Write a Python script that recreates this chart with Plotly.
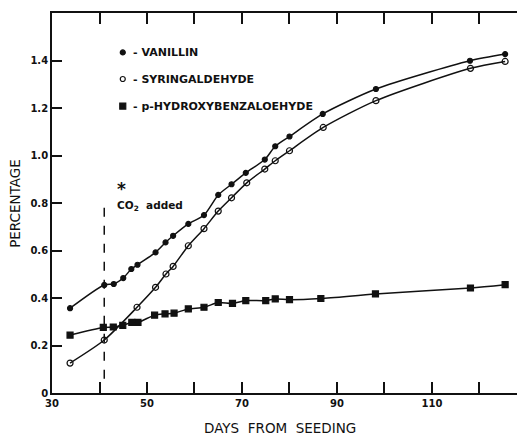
import plotly.graph_objects as go

# ---- data ----
days_van = [33.8, 41.0, 43.0, 45.0, 46.7, 48.0, 51.8, 53.9, 55.5, 58.7, 62.0, 65.0, 67.8, 70.8, 74.8, 77.0, 80.0, 87.0, 98.2, 118.0, 125.4]
vanillin = [0.357, 0.455, 0.459, 0.484, 0.522, 0.540, 0.592, 0.634, 0.662, 0.712, 0.749, 0.834, 0.879, 0.927, 0.983, 1.039, 1.080, 1.175, 1.280, 1.399, 1.427]

days_syr = [33.8, 41.0, 47.9, 51.8, 54.0, 55.5, 58.7, 62.0, 65.0, 67.8, 71.0, 74.8, 77.0, 80.0, 87.1, 98.2, 118.1, 125.4]
syringaldehyde = [0.126, 0.223, 0.361, 0.445, 0.501, 0.533, 0.620, 0.692, 0.766, 0.822, 0.885, 0.943, 0.978, 1.020, 1.118, 1.231, 1.367, 1.396]

days_hb = [33.8, 40.8, 42.9, 44.9, 46.8, 48.1, 51.6, 53.8, 55.7, 58.7, 62.0, 65.0, 68.0, 70.8, 75.0, 77.0, 80.0, 86.6, 98.1, 118.1, 125.4]
hydroxybenz = [0.244, 0.276, 0.278, 0.285, 0.297, 0.297, 0.328, 0.333, 0.336, 0.354, 0.361, 0.381, 0.377, 0.389, 0.389, 0.396, 0.393, 0.398, 0.417, 0.442, 0.456]

x_tickvals = [30, 50, 70, 90, 110]
x_ticktext = ["30", "50", "70", "90", "110"]
y_tickvals = [0, 0.2, 0.4, 0.6, 0.8, 1.0, 1.2, 1.4]
y_ticktext = ["0", "0.2", "0.4", "0.6", "0.8", "1.0", "1.2", "1.4"]

legend_names = ["- VANILLIN", "- SYRINGALDEHYDE", "- p-HYDROXYBENZALOEHYDE"]
co2_day = 41.0

# ---- styling ----
BLACK = "#111111"
LBL = dict(family="DejaVu Sans", size=10, color=BLACK, weight="bold")
LEG = dict(family="DejaVu Sans", size=11, color=BLACK, weight="bold")

fig = go.Figure()

def series(x, y, symbol, size, lw=1.5):
    fig.add_trace(go.Scatter(
        x=x, y=y, mode="lines+markers",
        line=dict(color=BLACK, width=lw, shape="spline", smoothing=0.7),
        marker=dict(symbol=symbol, size=size, color=BLACK,
                    line=dict(color=BLACK, width=1.2)),
        showlegend=False, hoverinfo="skip"))

series(days_van, vanillin, "circle", 5)
series(days_syr, syringaldehyde, "circle-open", 6)
series(days_hb, hydroxybenz, "square", 6)

# legend block inside the plot
leg_x = 44.9
leg_y = [1.434, 1.322, 1.208]
leg_sym = ["circle", "circle-open", "square"]
leg_size = [5, 5, 6]
for yy, sym, sz, name in zip(leg_y, leg_sym, leg_size, legend_names):
    fig.add_trace(go.Scatter(x=[leg_x], y=[yy], mode="markers",
                             marker=dict(symbol=sym, size=sz, color=BLACK, line=dict(color=BLACK, width=1.2)),
                             showlegend=False, hoverinfo="skip"))
    fig.add_annotation(x=46.6, y=yy, text=name, showarrow=False, xanchor="left", yanchor="middle",
                       font=LEG)

# CO2 added marker
fig.add_shape(type="line", x0=co2_day, x1=co2_day, y0=0.06, y1=0.80,
              line=dict(color=BLACK, width=1.5, dash="dash"))
fig.add_annotation(x=43.3, y=0.828, text="<span style='font-size:17px'><b>*</b></span><br>CO<sub>2</sub>  added",
                   showarrow=False, xanchor="left", yanchor="middle", align="left",
                   font=dict(family="DejaVu Sans", size=10.5, color=BLACK, weight="bold"))

# axis titles as annotations
fig.add_annotation(x=-0.08, xref="paper", y=0.5, yref="paper", text="PERCENTAGE", textangle=-90,
                   showarrow=False, xanchor="center", yanchor="middle",
                   font=dict(family="DejaVu Sans", size=13.5, color=BLACK))
fig.add_annotation(x=0.49, xref="paper", y=-0.092, yref="paper", text="DAYS  FROM  SEEDING",
                   showarrow=False, xanchor="center", yanchor="middle",
                   font=dict(family="DejaVu Sans", size=13.5, color=BLACK))

fig.update_xaxes(range=[30, 127.9], tickvals=x_tickvals, ticktext=x_ticktext,
                 ticks="inside", ticklen=11, tickwidth=1.5, tickcolor=BLACK,
                 minor=dict(ticks="inside", tick0=30, dtick=10, ticklen=11, tickwidth=1.5, tickcolor=BLACK),
                 showline=True, linecolor=BLACK, linewidth=1.8, mirror="ticks",
                 showgrid=False, zeroline=False, tickfont=LBL)
fig.update_yaxes(range=[0, 1.6], tickvals=y_tickvals, ticktext=y_ticktext,
                 ticks="inside", ticklen=10, tickwidth=1.5, tickcolor=BLACK,
                 showline=True, linecolor=BLACK, linewidth=1.8, mirror=False,
                 showgrid=False, zeroline=False, tickfont=LBL)

fig.update_layout(width=518, height=436, margin=dict(l=52, r=1, t=13, b=43),
                  paper_bgcolor="white", plot_bgcolor="white", showlegend=False)

fig.write_html("out.html")
